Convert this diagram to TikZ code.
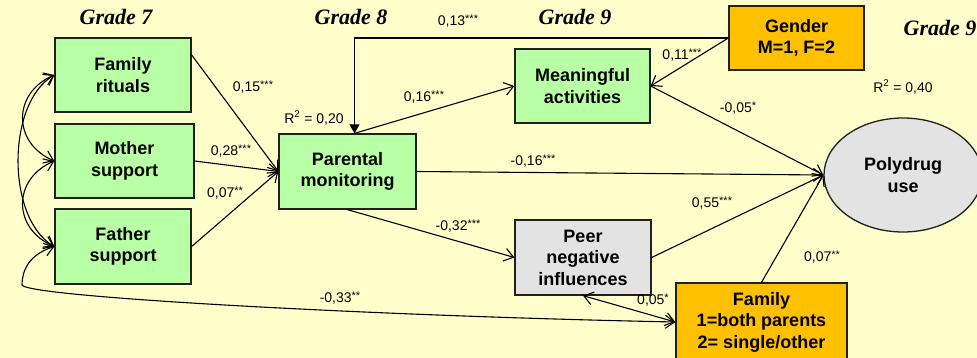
\documentclass[tikz,border=0pt]{standalone}
\usepackage{fontspec}
\setmainfont{Liberation Sans}
\newfontfamily\gradefont{Liberation Serif}
\usetikzlibrary{arrows.meta,shapes.geometric}
\definecolor{hgelb}{HTML}{FFFFCC}
\definecolor{gruen}{HTML}{B9FFA6}
\definecolor{orange}{HTML}{FFC000}
\definecolor{hgrau}{HTML}{E3E3E3}
\definecolor{rand}{HTML}{202020}
\newcommand{\sig}[1]{\raisebox{3.5pt}{\fontsize{11}{11}\selectfont #1}}
\tikzset{
  kasten/.style={draw=rand,line width=1.3pt,minimum width=136pt,minimum height=74pt,
    inner sep=0pt,align=center,font=\fontsize{18}{21.5}\selectfont\bfseries},
  gkasten/.style={kasten,fill=gruen},
  okasten/.style={kasten,fill=orange},
  hkasten/.style={kasten,fill=hgrau},
  pf/.style={-{Straight Barb[length=9pt,width=13pt]},line width=1.1pt},
  dpf/.style={{Straight Barb[length=9pt,width=13pt]}-{Straight Barb[length=9pt,width=13pt]},line width=1.1pt},
  dreieck/.style={-{Triangle[length=9pt,width=10pt]},line width=1.1pt},
  lab/.style={font=\fontsize{14}{16}\selectfont,inner sep=0pt},
  grade/.style={font=\fontsize{22}{26}\selectfont\gradefont\bfseries\itshape,inner sep=0pt},
}
\begin{document}
\begin{tikzpicture}[x=1pt,y=-1pt]
  \useasboundingbox (0,0) rectangle (977,358);
  \fill[hgelb] (0,0) rectangle (977,358);
  % jahrgaenge
  \node[grade] (g7) at (116,17) {Grade 7};
  \node[grade] (g8) at (351,17) {Grade 8};
  \node[grade] (g9) at (575,17) {Grade 9};
  \node[grade] (g9b) at (940,28) {Grade 9};
  % kaesten
  \node[gkasten] (fr) at (123,75) {Family\\rituals};
  \node[gkasten,minimum width=139pt] (ms) at (124.5,161) {Mother\\support};
  \node[gkasten,minimum height=75pt] (fs) at (123,246.5) {Father\\support};
  \node[gkasten,minimum width=137pt,minimum height=75pt] (pm) at (347.5,171.5) {Parental\\monitoring};
  \node[gkasten,minimum width=135pt] (ma) at (582.5,86) {Meaningful\\activities};
  \node[hkasten,minimum height=75pt] (peer) at (583,257.5) {Peer\\negative\\influences};
  \node[okasten,minimum width=135pt,minimum height=64pt] (gen) at (796.5,38) {Gender\\M=1, F=2};
  \node[okasten,minimum width=171pt,minimum height=78pt] (fam) at (761.5,322) {Family\\1=both parents\\2= single/other};
  \node[ellipse,draw=rand,line width=1.3pt,fill=hgrau,minimum width=158pt,minimum height=114pt,
    align=center,font=\fontsize{18}{21.5}\selectfont\bfseries] (poly) at (903,175) {Polydrug\\use};
  % pfade
  \coordinate (pmtop) at ([xshift=7pt]pm.north);
  \draw[pf] ([yshift=20pt]fr.east) -- (pm.west);
  \draw[pf] (ms.east) -- (pm.west);
  \draw[pf] (fs.east) -- (pm.west);
  \draw[dreieck] (gen.west) -| (pmtop);
  \draw[pf] (gen.west) -- (ma.east);
  \draw[pf] (pmtop) -- (ma.west);
  \draw[pf] (pm.east) -- (poly.west);
  \draw[pf] (pm.south) -- (peer.west);
  \draw[pf] (ma.east) -- (poly.west);
  \draw[pf] (peer.east) -- (poly.west);
  \draw[pf] (fam.north) -- (poly.west);
  \draw[dpf] (peer.south) -- (fam.west);
  % korrelationen
  \draw[dpf] (fr.west) .. controls +(-42,18) and +(-42,-18) .. (ms.west);
  \draw[dpf] (ms.west) .. controls +(-42,18) and +(-42,-18) .. (fs.west);
  \draw[dpf] (fr.west) .. controls +(-48,28) and +(-48,-28) .. (fs.west);
  \coordinate (knick) at (22,285);
  \draw[dpf] (fs.west) .. controls +(-25,8) and +(0,-15) .. (knick)
    .. controls +(5,12) and +(-300,-6) .. (fam.west);
  % koeffizienten
  \node[lab] (r2a) at (314,118) {R\textsuperscript{2} = 0,20};
  \node[lab] (r2b) at (903,87) {R\textsuperscript{2} = 0,40};
  \node[lab] (k1) at (253,87) {0,15\sig{***}};
  \node[lab] (k2) at (231,151) {0,28\sig{***}};
  \node[lab] (k3) at (225,193) {0,07\sig{**}};
  \node[lab] (k4) at (458,21) {0,13\sig{***}};
  \node[lab] (k5) at (682,55) {0,11\sig{***}};
  \node[lab] (k6) at (424,97) {0,16\sig{***}};
  \node[lab] (k7) at (738,108) {-0,05\sig{*}};
  \node[lab] (k8) at (533,161) {-0,16\sig{***}};
  \node[lab] (k9) at (458,226) {-0,32\sig{***}};
  \node[lab] (k10) at (712,203) {0,55\sig{***}};
  \node[lab] (k11) at (822,257) {0,07\sig{**}};
  \node[lab] (k12) at (653,300) {0,05\sig{*}};
  \node[lab] (k13) at (340,298) {-0,33\sig{**}};
\end{tikzpicture}
\end{document}
